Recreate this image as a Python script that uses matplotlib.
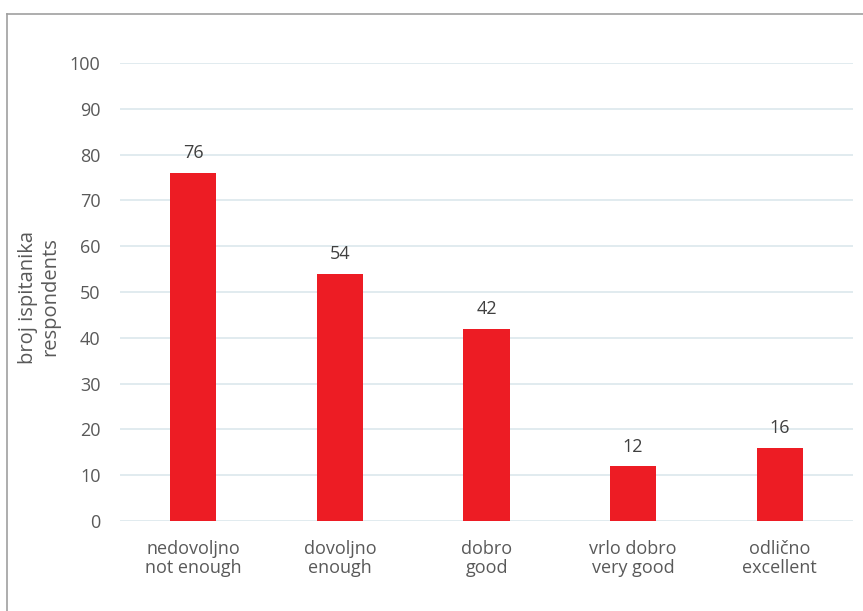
import matplotlib.pyplot as plt
from matplotlib.lines import Line2D

plt.rcParams['font.family'] = ['Open Sans', 'DejaVu Sans']

categories = ['nedovoljno\nnot enough', 'dovoljno\nenough', 'dobro\ngood',
              'vrlo dobro\nvery good', 'odlično\nexcellent']
values = [76, 54, 42, 12, 16]

W, H = 863, 611
fig = plt.figure(figsize=(W / 100, H / 100), dpi=100)
ax = fig.add_axes([120 / W, 1 - 521 / H, (853 - 120) / W, (521 - 63) / H])

x = range(len(categories))
bars = ax.bar(x, values, width=0.315, color='#ED1C24', zorder=3)
for b, v in zip(bars, values):
    ax.text(b.get_x() + b.get_width() / 2, v + 2.3, str(v), ha='center', va='bottom',
            fontsize=13, color='#404040')

ax.set_xlim(-0.5, len(categories) - 0.5)
ax.set_ylim(0, 100)
ax.set_yticks(range(0, 101, 10))
ax.set_xticks(list(x))
ax.set_xticklabels(categories, fontsize=13, color='#595959', linespacing=1.05)
ax.tick_params(axis='y', labelsize=13, labelcolor='#595959', length=0, pad=14)
ax.tick_params(axis='x', length=0, pad=14)
ax.grid(axis='y', color='#DCE8EC', linewidth=1.2, zorder=0)
for s in ax.spines.values():
    s.set_visible(False)

fig.text(39 / W, 1 - 297 / H, 'broj ispitanika\nrespondents', rotation=90,
         ha='center', va='center', fontsize=14.5, color='#595959', linespacing=1.1)

# outer frame (left and top edges only visible)
fig.add_artist(Line2D([7 / W, 7 / W], [0, 1 - 14 / H], transform=fig.transFigure,
                      color='#A0A0A0', linewidth=1.2))
fig.add_artist(Line2D([7 / W, 1], [1 - 14 / H, 1 - 14 / H], transform=fig.transFigure,
                      color='#A0A0A0', linewidth=1.2))

plt.savefig('out.png', dpi=100)
